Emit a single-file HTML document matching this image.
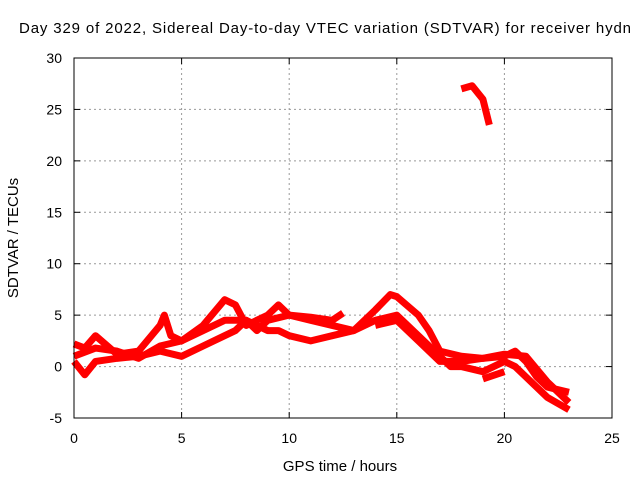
<!DOCTYPE html>
<html><head><meta charset="utf-8"><style>
body{margin:0;background:#fff}
svg{display:block;font-family:"Liberation Sans",sans-serif;font-size:14px}
</style></head><body>
<svg width="640" height="480">
<rect width="640" height="480" fill="#fff"/>
<text x="19" y="33" font-size="15" textLength="612" lengthAdjust="spacing">Day 329 of 2022, Sidereal Day-to-day VTEC variation (SDTVAR) for receiver hydn</text>
<g id="grid"></g>
<g id="axes"></g>
<g id="series"></g>
<rect x="74" y="58" width="538" height="360" fill="none" stroke="#000" stroke-width="1"/>
<text x="340" y="471" text-anchor="middle" font-size="15">GPS time / hours</text>
<text transform="translate(18,238) rotate(-90)" text-anchor="middle" font-size="15">SDTVAR / TECUs</text>
</svg>
<script>
const xTicks=[0,5,10,15,20,25];
const yTicks=[-5,0,5,10,15,20,25,30];
const seriesA_t=[0,0.5,1,2,3,4,4.2,4.5,5,6,7,7.5,8,9,9.5,10,11,12,12.5];
const seriesA_v=[2.2,1.8,3,1.2,1.5,4,5,3,2.5,4,6.5,6,4,5,6,5,4.8,4.5,5.2];
const seriesB_t=[0,1,2,3,4,5,6,7,8,8.5,9,10,11,12,13,14,14.7,15,16,16.5,17,18,19,20,20.5,21,21.5,22,23];
const seriesB_v=[1,1.8,1.5,0.8,2,2.5,3.5,4.5,4.5,3.5,4.5,5,4.5,4,3.5,5.5,7,6.8,5,3.5,1.5,1,0.8,1,1.5,0.5,-1,-2,-2.5];
const seriesC_t=[0,0.5,1,2,3,4,5,6,7,7.5,8,9,9.5,10,11,12,13,14,15,16,17,17.5,18,19,20,20.5,21,22,23];
const seriesC_v=[0.5,-0.8,0.5,0.8,1,1.5,1,2,3,3.5,4.5,3.5,3.5,3,2.5,3,3.5,4.5,5,3,1,0,0,-0.5,0.5,0,-1,-3,-4.2];
const seriesD_t=[14,15,16,17,18,19,20,21,22,23];
const seriesD_v=[4,4.5,2.5,0.5,0.5,0.8,1.2,1,-1.5,-3.5];
const seriesE_t=[18,18.5,19,19.3];
const seriesE_v=[27,27.3,26,23.5];
const seriesF_t=[19,20];
const seriesF_v=[-1.2,-0.5];
const X=t=>74+t*538/25;
const Y=v=>58+(30-v)*360/35;
const NS='http://www.w3.org/2000/svg';
function mk(tag,attrs,parent){const e=document.createElementNS(NS,tag);for(const k in attrs)e.setAttribute(k,attrs[k]);parent.appendChild(e);return e;}
const grid=document.getElementById('grid'),axes=document.getElementById('axes'),ser=document.getElementById('series');
xTicks.forEach(t=>{
 if(t>0&&t<25){const l=mk('line',{x1:X(t),x2:X(t),y1:58,y2:418,stroke:'#999','stroke-dasharray':'2,3'},grid);}
 const tk=mk('line',{x1:X(t),x2:X(t),y1:418,y2:412,stroke:'#000'},axes);
 const tk2=mk('line',{x1:X(t),x2:X(t),y1:58,y2:64,stroke:'#000'},axes);
 const tx=mk('text',{x:X(t),y:443,'text-anchor':'middle'},axes);tx.textContent=t;
});
yTicks.forEach(v=>{
 if(v>-5&&v<30){const l=mk('line',{x1:74,x2:612,y1:Y(v),y2:Y(v),stroke:'#999','stroke-dasharray':'2,3'},grid);}
 const tk=mk('line',{x1:74,x2:80,y1:Y(v),y2:Y(v),stroke:'#000'},axes);
 const tk2=mk('line',{x1:606,x2:612,y1:Y(v),y2:Y(v),stroke:'#000'},axes);
 const tx=mk('text',{x:62,y:Y(v)+5,'text-anchor':'end'},axes);tx.textContent=v;
});
[[seriesA_t,seriesA_v],[seriesB_t,seriesB_v],[seriesC_t,seriesC_v],[seriesD_t,seriesD_v],[seriesE_t,seriesE_v],[seriesF_t,seriesF_v]].forEach(([ts,vs])=>{
 const p=mk('polyline',{points:ts.map((t,i)=>X(t)+','+Y(vs[i])).join(' '),fill:'none',stroke:'#f00','stroke-width':7,'stroke-linejoin':'round'},ser);
 
 
});
</script>
</body></html>
